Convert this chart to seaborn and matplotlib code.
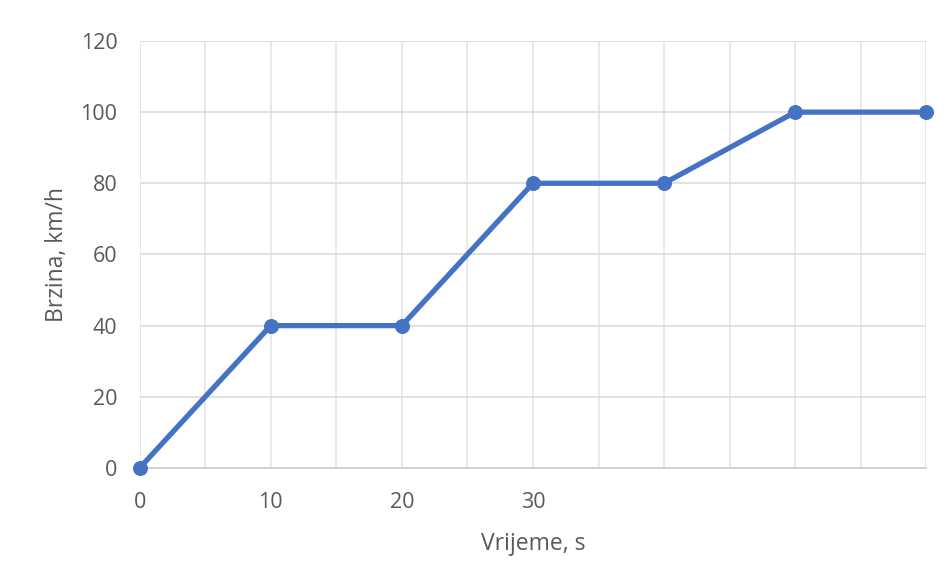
import numpy as np
import pandas as pd
import seaborn as sns
import matplotlib.pyplot as plt

# Data
time_s = [0, 10, 20, 30, 40, 50, 60]
speed_kmh = [0, 40, 40, 80, 80, 100, 100]
x_tick_labels = ["0", "10", "20", "30"]
y_ticks = [0, 20, 40, 60, 80, 100, 120]

df = pd.DataFrame({"time": time_s, "speed": speed_kmh})

sns.set_style("white")
plt.rcParams['font.family'] = ['Open Sans', 'DejaVu Sans']

fig = plt.figure(figsize=(9.5, 5.77), dpi=100)
ax = fig.add_axes([0.147, 0.189, 0.828, 0.74])

sns.lineplot(data=df, x="time", y="speed", ax=ax, color="#4472C4",
             linewidth=3.8, marker="o", markersize=10,
             markeredgecolor="#4472C4", zorder=3)

ax.set_xlim(0, 60)
ax.set_ylim(0, 120)

# gridlines every 5 s vertically, every 20 km/h horizontally
ax.set_xticks(np.arange(0, 61, 5), minor=True)
ax.set_xticks([0, 10, 20, 30])
ax.set_xticklabels(x_tick_labels)
ax.set_yticks(y_ticks)
ax.grid(True, which="both", axis="x", color="#e3e3e3", linewidth=1.1)
ax.grid(True, which="major", axis="y", color="#d9d9d9", linewidth=1.1)

for side in ["top", "right", "left"]:
    ax.spines[side].set_visible(False)
ax.spines["bottom"].set_color("#d0d0d0")
ax.spines["bottom"].set_linewidth(1.3)

ax.tick_params(axis="both", which="both", length=0, labelsize=15.5,
               labelcolor="#595959")
ax.tick_params(axis="x", pad=17)
ax.tick_params(axis="y", pad=16)

ax.set_xlabel("Vrijeme, s", fontsize=16.5, color="#595959", labelpad=14)
ax.set_ylabel("Brzina, km/h", fontsize=16.5, color="#595959", labelpad=8)

for line in ax.lines:
    line.set_clip_on(False)

plt.savefig("out.png", dpi=100)
